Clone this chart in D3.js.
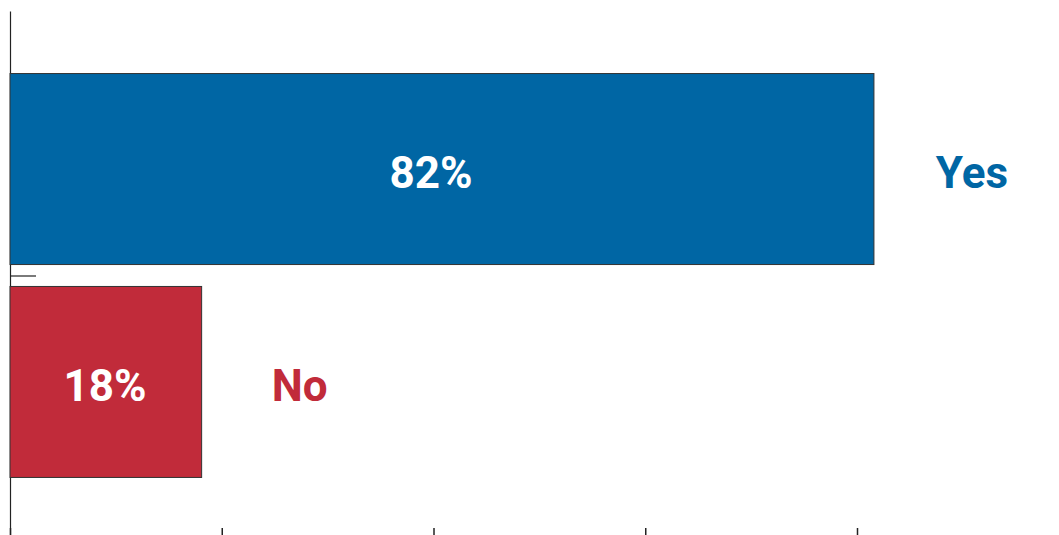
<!DOCTYPE html>
<html>
<head>
<meta charset="utf-8">
<script src="https://cdn.jsdelivr.net/npm/d3@7"></script>
<style>
  html, body { margin: 0; padding: 0; background: #fff; }
  svg { display: block; }
</style>
</head>
<body>
<div id="chart"><svg width="1059" height="535"></svg></div>
<script>
const categories = ['Yes', 'No'];
const values = [81.6, 18.1];
const valueLabels = ['82%', '18%'];
const colors = ['#0066a4', '#c12b3a'];
const xTicks = [0, 20, 40, 60, 80, 100];

const SVG = d3.select('#chart svg');
const WIDTH = 1059;
const HEIGHT = 535;
const LEFT = 10;

const X_SCALE = d3.scaleLinear().domain([0, 100]).range([LEFT, LEFT + 1058.75]);

const Y_SCALE = d3
  .scaleBand()
  .domain(categories)
  .range([12, 539])
  .paddingInner(0.103)
  .paddingOuter(0.289);

// y axis: plain line with a single tick between the two bars
const Y_LIN = d3.scaleLinear().domain([0, 2]).range([11, 540]);
const Y_AXIS_G = SVG.append('g')
  .attr('id', 'yAxis')
  .attr('transform', `translate(${LEFT}, 0)`);
Y_AXIS_G.call(
  d3.axisRight(Y_LIN)
    .tickValues([(Y_SCALE('Yes') + Y_SCALE.bandwidth() + Y_SCALE('No')) / 2].map(Y_LIN.invert))
    .tickSize(26)
    .tickSizeOuter(0)
    .tickFormat('')
);
Y_AXIS_G.selectAll('path, line').attr('stroke', '#222').attr('stroke-width', 1.2);

// x axis: ticks only at the bottom edge
const X_AXIS_G = SVG.append('g')
  .attr('id', 'xAxis')
  .attr('transform', `translate(0, ${HEIGHT})`);
X_AXIS_G.call(d3.axisTop(X_SCALE).tickValues(xTicks).tickSize(7).tickFormat(''));
X_AXIS_G.select('.domain').remove();
X_AXIS_G.selectAll('line').attr('stroke', '#222').attr('stroke-width', 1.5);

const data = categories.map((c, i) => ({ cat: c, v: values[i], label: valueLabels[i], color: colors[i] }));

const CHART = SVG.append('g').attr('id', 'bars');

CHART.selectAll('rect')
  .data(data)
  .join('rect')
  .attr('x', X_SCALE(0))
  .attr('y', (d) => Y_SCALE(d.cat))
  .attr('width', (d) => X_SCALE(d.v) - X_SCALE(0))
  .attr('height', Y_SCALE.bandwidth())
  .style('fill', (d) => d.color)
  .style('stroke', '#333')
  .style('stroke-width', 1);

const FONT = 44;
const baseY = (d) => Y_SCALE(d.cat) + Y_SCALE.bandwidth() / 2 + FONT * 0.355 + 3;

CHART.selectAll('text.value')
  .data(data)
  .join('text')
  .attr('class', 'value')
  .text((d) => d.label)
  .attr('x', (d) => X_SCALE(d.v * 0.485) + 2)
  .attr('y', baseY)
  .style('text-anchor', 'middle')
  .style('font-family', 'Roboto, sans-serif')
  .style('font-weight', 'bold')
  .style('font-size', `${FONT}px`)
  .style('fill', '#fff');

CHART.selectAll('text.cat')
  .data(data)
  .join('text')
  .attr('class', 'cat')
  .text((d) => d.cat)
  .attr('x', (d) => X_SCALE(d.v) + 98)
  .attr('y', baseY)
  .style('text-anchor', 'middle')
  .style('font-family', 'Roboto, sans-serif')
  .style('font-weight', 'bold')
  .style('font-size', `${FONT}px`)
  .style('fill', (d) => d.color);
</script>
</body>
</html>
